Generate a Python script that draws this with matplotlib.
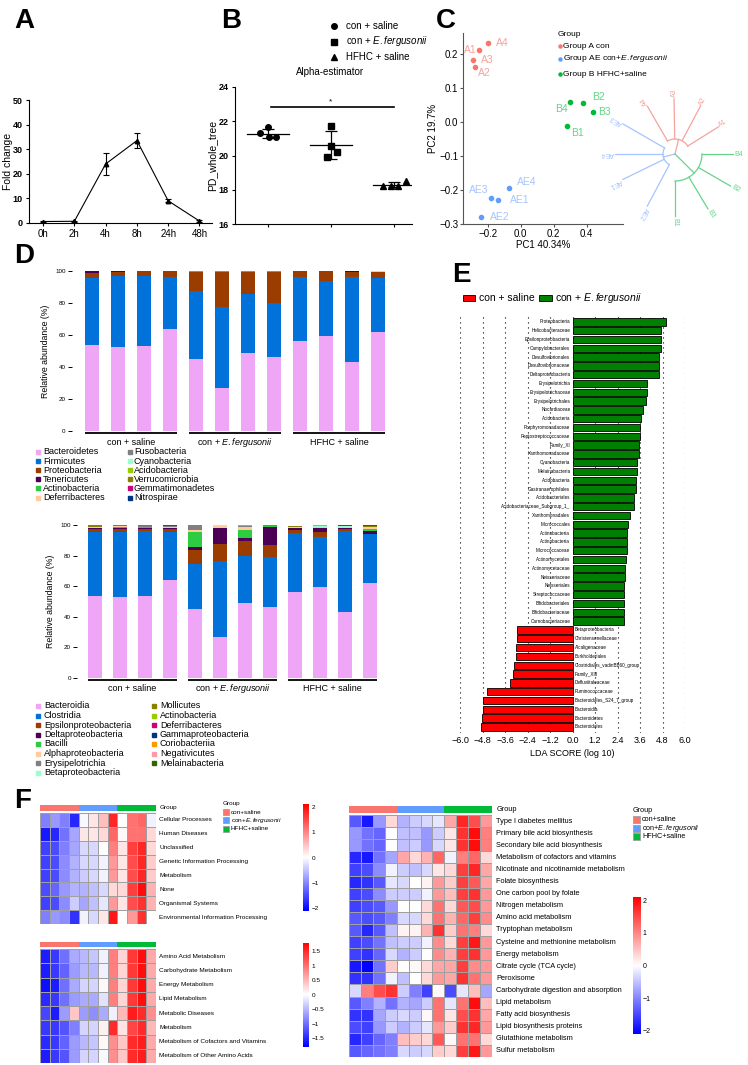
import numpy as np
import matplotlib
matplotlib.use('Agg')
import matplotlib.pyplot as plt
from matplotlib.colors import LinearSegmentedColormap, ListedColormap
from matplotlib.patches import Rectangle

plt.rcParams['font.family'] = ['Liberation Sans', 'DejaVu Sans']
plt.rcParams['mathtext.fontset'] = 'custom'
plt.rcParams['mathtext.rm'] = 'Liberation Sans'
plt.rcParams['mathtext.it'] = 'Liberation Sans:italic'
plt.rcParams['axes.linewidth'] = 0.8
plt.rcParams['axes.facecolor'] = 'none'

# ---------------- DATA ----------------
# Panel A
timepoints = ['0h', '2h', '4h', '8h', '24h', '48h']
fold_change = [0.6, 0.7, 24.0, 33.5, 9.0, 0.8]
fold_err = [0.3, 0.3, 4.6, 3.0, 0.6, 0.3]

# Panel B
alpha_groups = ['con + saline', r'con + $\mathit{E.fergusonii}$', 'HFHC + saline']
alpha_markers = ['o', 's', '^']
pd_saline = [21.30, 21.65, 21.07, 21.07]
pd_efer = [21.73, 20.56, 20.23, 19.90]
pd_hfhc = [18.24, 18.24, 18.24, 18.50]
pd_jitter = [[-0.12, 0.0, 0.02, 0.13], [0.01, 0.01, 0.10, -0.06], [-0.17, -0.05, 0.07, 0.19]]

# Panel C
pcoa_labels = ['A1', 'A2', 'A3', 'A4', 'AE1', 'AE2', 'AE3', 'AE4', 'B1', 'B2', 'B3', 'B4']
pcoa_group = ['A'] * 4 + ['AE'] * 4 + ['B'] * 4
pc1 = [-0.25, -0.28, -0.29, -0.20, -0.14, -0.24, -0.18, -0.07, 0.28, 0.38, 0.44, 0.30]
pc2 = [0.214, 0.162, 0.182, 0.234, -0.230, -0.280, -0.222, -0.194, -0.012, 0.058, 0.030, 0.060]
pcoa_label_offset = [(-3, 0, 'right'), (3, 6, 'left'), (8, 0, 'left'), (8, 0, 'left'),
                     (12, 0, 'left'), (9, 0, 'left'), (-3, -8, 'right'), (8, -6, 'left'),
                     (4, 7, 'left'), (9, -6, 'left'), (5, 0, 'left'), (-2, 7, 'right')]
group_legend_C = ['Group A con', r'Group AE con+$\mathit{E.fergusonii}$', 'Group B HFHC+saline']
tree_leaves = ['A1', 'A2', 'A3', 'A4', 'AE3', 'AE4', 'AE1', 'AE2', 'B1', 'B3', 'B2', 'B4']
tree_clade = ['A'] * 4 + ['AE'] * 4 + ['B'] * 4
tree_angle = [32, 62, 91, 120, 150, 180, 206, 242, 270, 301, 330, 360]
tree_radius = [51, 54, 55, 55, 60, 60, 58, 59, 62, 64, 64, 58]
clade_node_radius = {'A': 15, 'AE': 12, 'B': 27}

# Panel D (phylum level)
phyla = ['Bacteroidetes', 'Firmicutes', 'Proteobacteria', 'Tenericutes', 'Actinobacteria',
         'Deferribacteres', 'Fusobacteria', 'Cyanobacteria', 'Acidobacteria', 'Verrucomicrobia',
         'Gemmatimonadetes', 'Nitrospirae']
phylum_colors = ['#F0A6F7', '#0072DA', '#9B3D00', '#4B0055', '#2ECC40', '#FFCC99',
                 '#808080', '#99FFCC', '#99CC00', '#8B8000', '#CC0077', '#003380']
bacteroidetes = [53.5, 52.7, 53.1, 64.0, 44.8, 26.9, 48.8, 46.3, 56.0, 59.6, 43.0, 62.0]
firmicutes = [42.3, 44.0, 43.6, 32.0, 42.9, 50.4, 37.0, 33.5, 40.0, 33.9, 53.5, 33.6]
proteobacteria = [3.0, 2.5, 3.1, 3.8, 11.8, 22.2, 13.7, 19.7, 3.8, 6.3, 2.8, 3.6]
tenericutes = [1.0, 0.6, 0.1, 0.1, 0.0, 0.0, 0.0, 0.0, 0.1, 0.1, 0.5, 0.1]
actinobacteria_p = [0.05, 0.05, 0.05, 0.05, 0.3, 0.3, 0.3, 0.3, 0.05, 0.05, 0.1, 0.3]
deferribacteres_p = [0.1, 0.1, 0.05, 0.05, 0.1, 0.1, 0.1, 0.1, 0.05, 0.05, 0.1, 0.1]
fusobacteria = [0.0] * 12
cyanobacteria = [0.05, 0.05, 0.05, 0.0, 0.1, 0.1, 0.0, 0.1, 0.0, 0.0, 0.0, 0.2]
acidobacteria = [0.0] * 12
verrucomicrobia = [0.0] * 12
gemmatimonadetes = [0.0] * 12
nitrospirae = [0.0] * 12
phylum_values = [bacteroidetes, firmicutes, proteobacteria, tenericutes, actinobacteria_p,
                 deferribacteres_p, fusobacteria, cyanobacteria, acidobacteria, verrucomicrobia,
                 gemmatimonadetes, nitrospirae]

# Panel D (class level)
classes = ['Bacteroidia', 'Clostridia', 'Epsilonproteobacteria', 'Deltaproteobacteria', 'Bacilli',
           'Alphaproteobacteria', 'Erysipelotrichia', 'Betaproteobacteria', 'Mollicutes',
           'Actinobacteria', 'Deferribacteres', 'Gammaproteobacteria', 'Coriobacteriia',
           'Negativicutes', 'Melainabacteria']
class_colors = ['#F0A6F7', '#0072DA', '#9B3D00', '#4B0055', '#2ECC40', '#FFCC99', '#808080',
                '#99FFCC', '#8B8000', '#99CC00', '#CC0077', '#003380', '#FF9900', '#FF99AA', '#336600']
bacteroidia = [53.7, 53.0, 53.5, 64.0, 44.8, 26.7, 48.9, 46.5, 56.0, 59.6, 43.0, 62.2]
clostridia = [41.9, 42.6, 42.5, 31.6, 29.8, 49.8, 30.9, 32.6, 38.8, 32.6, 52.9, 31.7]
epsilon = [1.8, 1.8, 1.6, 1.8, 9.3, 11.3, 9.8, 7.9, 1.7, 3.4, 1.3, 0.4]
delta = [0.6, 0.6, 0.6, 0.6, 1.7, 10.2, 1.9, 11.7, 1.3, 2.2, 0.8, 1.8]
bacilli = [0.3, 1.0, 0.3, 0.3, 10.0, 0.3, 5.5, 0.5, 0.5, 0.3, 0.3, 1.3]
alpha_p = [0.3, 0.3, 0.5, 0.5, 1.1, 0.8, 1.7, 0.2, 0.4, 0.3, 0.5, 1.0]
erysipelotrichia = [0.2, 0.2, 0.3, 0.3, 3.3, 0.5, 0.8, 0.3, 0.2, 0.5, 0.2, 0.3]
beta_p = [0.1, 0.1, 0.1, 0.1, 0.1, 0.1, 0.1, 0.1, 0.1, 0.5, 0.1, 0.1]
mollicutes = [0.8, 0.5, 0.3, 0.4, 0.0, 0.0, 0.0, 0.0, 0.3, 0.1, 0.4, 0.5]
actinobacteria_c = [0.05, 0.05, 0.05, 0.05, 0.1, 0.1, 0.2, 0.1, 0.05, 0.05, 0.1, 0.3]
deferribacteres_c = [0.1, 0.1, 0.05, 0.05, 0.1, 0.1, 0.1, 0.1, 0.05, 0.05, 0.1, 0.1]
gamma_p = [0.05] * 12
coriobacteriia = [0.05] * 12
negativicutes = [0.0] * 12
melainabacteria = [0.0, 0.0, 0.0, 0.0, 0.1, 0.1, 0.0, 0.1, 0.0, 0.0, 0.0, 0.1]
class_values = [bacteroidia, clostridia, epsilon, delta, bacilli, alpha_p, erysipelotrichia, beta_p,
                mollicutes, actinobacteria_c, deferribacteres_c, gamma_p, coriobacteriia,
                negativicutes, melainabacteria]
d_groups = ['con + saline', r'con + $\mathit{E.fergusonii}$', 'HFHC + saline']

# Panel E (LEfSe)
lefse_green = ['Proteobacteria', 'Helicobacteraceae', 'Epsilonproteobacteria', 'Campylobacterales',
               'Desulfovibrionales', 'Desulfovibrionaceae', 'Deltaproteobacteria', 'Erysipelotrichia',
               'Erysipelotrichaceae', 'Erysipelotrichales', 'Nocardiaceae', 'Acidobacteria',
               'Porphyromonadaceae', 'Peptostreptococcaceae', 'Family_XI', 'Xanthomonadaceae',
               'Cyanobacteria', 'Melainabacteria', 'Acidobacteria', 'Gastranaerophilales',
               'Acidobacteriales', 'Acidobacteriaceae_Subgroup_1_', 'Xanthomonadales', 'Micrococcales',
               'Actinobacteria', 'Actinobacteria', 'Micrococcaceae', 'Actinomycetales',
               'Actinomycetaceae', 'Neisseriaceae', 'Neisseriales', 'Streptococcaceae',
               'Bifidobacteriales', 'Bifidobacteriaceae', 'Carnobacteriaceae']
lda_green = [4.97, 4.70, 4.70, 4.70, 4.60, 4.60, 4.60, 3.96, 3.96, 3.94, 3.76, 3.67, 3.58, 3.58,
             3.53, 3.53, 3.44, 3.42, 3.37, 3.37, 3.30, 3.26, 3.05, 2.96, 2.92, 2.92, 2.89, 2.84,
             2.82, 2.80, 2.77, 2.77, 2.73, 2.73, 2.73]
lefse_red = ['Betaproteobacteria', 'Christensenellaceae', 'Alcaligenaceae', 'Burkholderiales',
             'Clostridiales_vadinBB60_group', 'Family_XIII', 'Defluviitaleaceae', 'Ruminococcaceae',
             'Bacteroidales_S24_7_group', 'Bacteroidia', 'Bacteroidetes', 'Bacteroidales']
lda_red = [-2.96, -2.98, -3.00, -3.03, -3.12, -3.16, -3.32, -4.54, -4.76, -4.79, -4.83, -4.86]
lda_ticks = [-6.0, -4.8, -3.6, -2.4, -1.2, 0.0, 1.2, 2.4, 3.6, 4.8, 6.0]

# Panel F
group_colors = ['#F8766D', '#619CFF', '#00BA38']
sample_group = [0, 0, 0, 0, 1, 1, 1, 1, 2, 2, 2, 2]
group_names = ['con+saline', r'con+$\mathit{E.fergusonii}$', 'HFHC+saline']
f1_rows = ['Cellular Processes', 'Human Diseases', 'Unclassified', 'Genetic Information Processing',
           'Metabolism', 'None', 'Organismal Systems', 'Environmental Information Processing']
f1_values = [
    [-1.0, -0.8, -1.0, -1.7, -0.05, 0.2, 0.5, 1.7, 0.0, 1.1, 1.2, -0.1],
    [-1.8, -1.7, -1.1, -0.7, 0.2, 0.2, 0.3, 1.2, 0.05, 1.1, 1.1, 0.3],
    [-1.5, -1.4, -1.0, -0.7, -0.3, -0.3, 0.0, 1.0, 0.2, 1.5, 1.7, 0.3],
    [-1.5, -1.4, -0.9, -0.6, -0.3, -0.3, -0.1, 0.8, 0.2, 1.4, 1.7, 0.4],
    [-1.5, -1.4, -0.9, -0.6, -0.4, -0.3, -0.1, 0.8, 0.2, 1.4, 1.7, 0.4],
    [-1.4, -1.2, -0.8, -0.6, -0.6, -0.5, -0.3, 0.3, 0.3, 1.5, 1.9, 0.6],
    [-1.5, -1.4, -0.9, -0.4, -0.7, -0.5, -0.2, 0.8, 0.2, 1.4, 1.6, 0.6],
    [-1.0, -0.8, -0.9, -1.6, -0.1, -0.3, 0.2, 1.8, 0.0, 0.8, 1.6, 0.0]]
f2_rows = ['Amino Acid Metabolism', 'Carbohydrate Metabolism', 'Energy Metabolism', 'Lipid Metabolism',
           'Metabolic Diseases', 'Metabolism', 'Metabolism of Cofactors and Vitamins',
           'Metabolism of Other Amino Acids']
f2_values = [
    [-1.6, -1.4, -1.0, -0.6, -0.5, -0.4, -0.1, 0.9, 0.3, 1.4, 1.7, 0.6],
    [-1.6, -1.4, -1.1, -0.7, -0.5, -0.5, -0.1, 0.9, 0.3, 1.4, 1.7, 0.6],
    [-1.7, -1.6, -1.0, -0.6, -0.3, -0.3, 0.05, 0.9, 0.3, 1.4, 1.7, 0.6],
    [-1.5, -1.4, -1.0, -0.7, -0.6, -0.6, -0.2, 0.9, 0.3, 1.4, 1.7, 0.6],
    [-1.3, -1.6, -0.7, 0.4, -0.7, -0.8, -0.6, -0.1, 0.5, 1.6, 1.5, 0.8],
    [-1.4, -1.4, -1.2, -0.9, -0.3, -0.3, 0.1, 1.5, 0.2, 1.3, 1.5, 0.5],
    [-1.5, -1.4, -1.1, -0.7, -0.5, -0.4, 0.05, 0.8, 0.4, 1.5, 1.6, 0.6],
    [-1.6, -1.4, -1.2, -0.7, -0.3, -0.3, -0.05, 0.8, 0.4, 1.5, 1.6, 0.6]]
f3_rows = ['Type I diabetes mellitus', 'Primary bile acid biosynthesis', 'Secondary bile acid biosynthesis',
           'Metabolism of cofactors and vitamins', 'Nicotinate and nicotinamide metabolism',
           'Folate biosynthesis', 'One carbon pool by folate', 'Nitrogen metabolism',
           'Amino acid metabolism', 'Tryptophan metabolism', 'Cysteine and methionine metabolism',
           'Energy metabolism', 'Citrate cycle (TCA cycle)', 'Peroxisome',
           'Carbohydrate digestion and absorption', 'Lipid metabolism', 'Fatty acid biosynthesis',
           'Lipid biosynthesis proteins', 'Glutathione metabolism', 'Sulfur metabolism']
f3_values = [
    [-1.3, -1.8, -0.8, 0.3, -0.6, -0.4, -0.3, -0.2, 0.7, 1.7, 1.4, 0.8],
    [-0.8, -1.1, -1.2, 0.0, -0.5, -0.5, -0.8, -0.4, 0.2, 1.6, 1.9, 1.0],
    [-0.8, -1.1, -1.2, 0.0, -0.5, -0.4, -0.8, -0.3, 0.2, 1.6, 1.9, 1.0],
    [-1.7, -1.8, -1.1, -0.7, 0.7, 0.3, 0.6, 1.2, -0.1, 1.0, 1.2, 0.3],
    [-1.5, -1.4, -0.9, -0.1, -0.4, -0.5, -0.3, 0.2, 0.3, 1.5, 1.7, 0.7],
    [-1.7, -1.6, -1.3, -0.2, -0.3, 0.0, 0.1, 0.8, 0.4, 1.5, 1.3, 0.7],
    [-1.5, -1.4, -0.9, -0.4, -0.4, -0.4, -0.1, 0.8, 0.5, 1.5, 1.6, 0.8],
    [-1.5, -1.4, -1.3, -0.8, 0.0, 0.0, 0.3, 1.1, 0.3, 1.3, 1.4, 0.8],
    [-1.3, -1.4, -1.3, -1.0, -0.3, -0.3, 0.3, 1.1, 0.6, 1.2, 1.5, 0.9],
    [-1.3, -1.7, -1.3, -0.5, 0.1, 0.1, 0.6, 1.6, 0.4, 1.1, 1.0, 0.3],
    [-1.5, -1.4, -1.1, -0.5, -0.4, -0.4, -0.1, 0.9, 0.3, 1.5, 1.8, 0.8],
    [-1.5, -1.6, -1.2, -0.3, -0.6, -0.4, 0.0, 0.9, 0.6, 1.5, 1.6, 0.8],
    [-1.8, -2.0, -1.1, 0.4, 0.0, 0.05, 0.3, 0.7, 0.7, 1.5, 0.9, 0.8],
    [-1.6, -1.6, -1.1, -0.1, -0.5, 0.0, 0.3, 0.8, 0.7, 1.6, 1.1, 0.8],
    [-0.3, 1.0, 1.4, 1.6, -0.4, -1.0, -1.5, 0.05, -1.4, -0.2, 0.5, -0.7],
    [-1.3, -1.0, -0.6, -1.1, -0.6, -0.7, -0.4, 1.1, -0.2, 1.1, 1.9, 0.5],
    [-1.6, -1.6, -0.7, -0.4, -0.3, -0.4, 0.05, 1.1, 0.2, 1.4, 1.6, 0.7],
    [-1.4, -1.5, -0.8, -0.4, -0.6, -0.4, -0.2, 0.8, 0.4, 1.6, 1.7, 0.8],
    [-1.7, -1.5, -1.2, -1.0, 0.5, 0.4, 0.3, 1.3, 0.05, 1.1, 1.1, 0.3],
    [-1.3, -1.2, -1.1, -1.0, -0.3, -0.4, -0.3, 0.4, 0.3, 1.5, 1.8, 0.8]]

# ---------------- FIGURE ----------------
W, H = 748, 1065
fig = plt.figure(figsize=(W / 100, H / 100), dpi=100)
fig.patch.set_facecolor('white')


def rect(x0, y0, x1, y1):
    return [x0 / W, 1 - y1 / H, (x1 - x0) / W, (y1 - y0) / H]


ov = fig.add_axes([0, 0, 1, 1])
ov.set_xlim(0, W)
ov.set_ylim(H, 0)
ov.axis('off')

for lab, (lx, ly) in zip('ABCDEF', [(14, 8), (221, 8), (436, 8), (14, 243), (452, 262), (14, 788)]):
    ov.text(lx, ly, lab, fontsize=20, fontweight='bold', va='top', ha='left')

# ---- Panel A ----
axA = fig.add_axes(rect(29, 100, 212, 223))
xa = np.arange(len(timepoints))
axA.errorbar(xa, fold_change, yerr=fold_err, color='black', marker='^', ms=3.2, lw=0.8,
             capsize=2, elinewidth=0.8, capthick=0.8)
axA.set_xlim(-0.45, 5.4)
axA.set_ylim(0, 50)
axA.set_xticks(xa)
axA.set_xticklabels(timepoints, fontsize=7)
axA.set_yticks([0, 10, 20, 30, 40, 50])
axA.set_yticklabels(['0', '10', '20', '30', '40', '50'], fontsize=6.5, fontweight='bold')
axA.spines['top'].set_visible(False)
axA.spines['right'].set_visible(False)
axA.tick_params(length=2.5, width=0.8, pad=2)
axA.set_ylabel('Fold change', fontsize=7.5)
axA.yaxis.set_label_coords(-0.085, 0.5)

# ---- Panel B ----
axB = fig.add_axes(rect(235, 87, 412, 224))
for gi, (vals, mk) in enumerate(zip([pd_saline, pd_efer, pd_hfhc], alpha_markers)):
    xs = [gi + j for j in pd_jitter[gi]]
    axB.plot(xs, vals, linestyle='none', marker=mk, color='black', ms=4)
    m = np.mean(vals)
    s = np.std(vals, ddof=1)
    axB.plot([gi - 0.33, gi + 0.33], [m, m], color='black', lw=0.9)
    axB.errorbar([gi], [m], yerr=[s], color='black', capsize=4, elinewidth=0.9, capthick=0.9, lw=0)
axB.plot([0.05, 2.0], [22.85, 22.85], color='black', lw=1.2)
axB.text(1.0, 22.9, '*', fontsize=6, ha='center', va='bottom')
axB.set_xlim(-0.52, 2.29)
axB.set_ylim(16, 24)
axB.set_xticks([0, 1, 2])
axB.set_xticklabels([])
axB.set_yticks([16, 18, 20, 22, 24])
axB.set_yticklabels(['16', '18', '20', '22', '24'], fontsize=6.5, fontweight='bold')
axB.spines['top'].set_visible(False)
axB.spines['right'].set_visible(False)
axB.tick_params(length=2.5, width=0.8, pad=2)
axB.set_ylabel('PD_whole_tree', fontsize=7.5)
axB.yaxis.set_label_coords(-0.1, 0.5)
ov.text(330, 72, 'Alpha-estimator', fontsize=7, ha='center', va='center')
for i, (g, mk) in enumerate(zip(alpha_groups, alpha_markers)):
    ov.plot([334], [26 + 15.5 * i], marker=mk, color='black', ms=4, linestyle='none')
    ov.text(346, 26 + 15.5 * i, g, fontsize=7, va='center', ha='left')

# ---- Panel C ----
cmap_grp = {'A': '#F8766D', 'AE': '#619CFF', 'B': '#00BA38'}
lab_grp = {'A': '#F6A39D', 'AE': '#A6C4FF', 'B': '#66D488'}
axC = fig.add_axes(rect(463, 33, 623, 224))
for lab, g, x, y, (dx, dy, ha) in zip(pcoa_labels, pcoa_group, pc1, pc2, pcoa_label_offset):
    axC.plot([x], [y], 'o', color=cmap_grp[g], ms=3)
    axC.annotate(lab, (x, y), xytext=(dx * 0.72, -dy * 0.72), textcoords='offset points',
                 ha=ha, va='center', fontsize=7.5, color=lab_grp[g])
axC.set_xlim(-0.35, 0.62)
axC.set_ylim(-0.3, 0.263)
axC.set_xticks([-0.2, 0.0, 0.2, 0.4])
axC.set_xticklabels(['\u22120.2', '0.0', '0.2', '0.4'], fontsize=7)
axC.set_yticks([-0.3, -0.2, -0.1, 0.0, 0.1, 0.2])
axC.set_yticklabels(['\u22120.3', '\u22120.2', '\u22120.1', '0.0', '0.1', '0.2'], fontsize=7)
axC.spines['top'].set_visible(False)
axC.spines['right'].set_visible(False)
axC.spines['left'].set_color('#555555')
axC.spines['bottom'].set_color('#555555')
axC.tick_params(length=2, width=0.8, pad=1.5, color='#555555')
axC.set_xlabel('PC1 40.34%', fontsize=7, labelpad=1)
axC.set_ylabel('PC2 19.7%', fontsize=7, labelpad=1)
ov.text(558, 34, 'Group', fontsize=6, va='center')
for i, (g, txt) in enumerate(zip(['A', 'AE', 'B'], group_legend_C)):
    yy = [46, 59, 74][i]
    ov.plot([560], [yy], 'o', color=cmap_grp[g], ms=2.2)
    ov.text(563, yy, txt, fontsize=6, va='center')

# tree
axT = fig.add_axes(rect(600, 80, 748, 232))
axT.set_xlim(600, 748)
axT.set_ylim(232, 80)
axT.axis('off')
cx, cy = 675, 154


def pol(r, a):
    return cx + r * np.cos(np.radians(a)), cy - r * np.sin(np.radians(a))


for clade in ['A', 'AE', 'B']:
    angs = [a for a, c in zip(tree_angle, tree_clade) if c == clade]
    rads = [r for r, c in zip(tree_radius, tree_clade) if c == clade]
    names = [n for n, c in zip(tree_leaves, tree_clade) if c == clade]
    rn = clade_node_radius[clade]
    col = lab_grp[clade]
    mid = np.mean(angs)
    p0 = pol(0, mid)
    p1 = pol(rn, mid)
    axT.plot([p0[0], p1[0]], [p0[1], p1[1]], color=col, lw=0.9)
    tt = np.linspace(min(angs), max(angs), 60)
    axT.plot(cx + rn * np.cos(np.radians(tt)), cy - rn * np.sin(np.radians(tt)), color=col, lw=0.9)
    for a, r, n in zip(angs, rads, names):
        q0 = pol(rn, a)
        q1 = pol(r, a)
        axT.plot([q0[0], q1[0]], [q0[1], q1[1]], color=col, lw=0.9)
        q2 = pol(r + 1.5, a)
        axT.text(q2[0], q2[1], n, fontsize=5, color=col, rotation=a % 360,
                 rotation_mode='anchor', ha='left', va='center')

# ---- Panel D ----
def stacked(rc, values, colors, yline, ylab_pad, width):
    ax = fig.add_axes(rect(*rc[:4]))
    x = np.arange(12)
    bottom = np.zeros(12)
    for vals, col in zip(values, colors):
        ax.bar(x, vals, bottom=bottom, width=width, color=col, linewidth=0)
        bottom += np.array(vals)
    ax.set_xlim(rc[4], rc[5])
    ax.set_ylim(0, 100)
    ax.set_yticks([0, 20, 40, 60, 80, 100])
    ax.set_yticklabels(['0', '20', '40', '60', '80', '100'], fontsize=4.5)
    ax.set_xticks([])
    for s in ['top', 'right', 'left', 'bottom']:
        ax.spines[s].set_visible(False)
    ax.tick_params(axis='y', length=3, width=0.7, pad=1.5)
    ax.set_ylabel('Relative abundance (%)', fontsize=6.3, labelpad=ylab_pad)
    for gi, g in enumerate(d_groups):
        ax.plot([gi * 4 - width / 2, gi * 4 + 3 + width / 2], [yline, yline], color='black', lw=1.3,
                clip_on=False, solid_capstyle='butt')
        ax.text(gi * 4 + 1.5, yline - 5.6, g, fontsize=6.5, ha='center', va='center')
    return ax


stacked((72, 271, 390, 431, -0.77, 11.46), phylum_values, phylum_colors, -1.3, 4, 0.54)
stacked((77, 525, 385, 678, -0.72, 11.6), class_values, class_colors, -1.3, 4, 0.56)

for i, (nm, col) in enumerate(zip(phyla, phylum_colors)):
    c, r = divmod(i, 6)
    yy = 452 + 9.1 * r
    ov.plot([38 + 92 * c], [yy], 's', color=col, ms=2.6)
    ov.text(43 + 91 * c, yy, nm, fontsize=6.5, va='center')
for i, (nm, col) in enumerate(zip(classes, class_colors)):
    c, r = divmod(i, 8)
    yy = 706 + 9.5 * r
    ov.plot([38 + 116 * c], [yy], 's', color=col, ms=2.6)
    ov.text(44 + 116 * c, yy, nm, fontsize=6.5, va='center')

# ---- Panel E ----
axE = fig.add_axes(rect(460, 313, 685, 733))
names_E = lefse_green + lefse_red
vals_E = lda_green + lda_red
cols_E = ['#008000'] * len(lefse_green) + ['#FF0000'] * len(lefse_red)
yE = np.arange(len(names_E))
for t in lda_ticks:
    axE.axvline(t, color='black', lw=0.8, ls=(0, (1, 3.5)), zorder=0)
axE.barh(yE, vals_E, height=0.84, color=cols_E, edgecolor='black', linewidth=0.6, zorder=2)
for y, n, v in zip(yE, names_E, vals_E):
    if v > 0:
        axE.text(-0.12, y, n, fontsize=3.3, ha='right', va='center', zorder=3)
    else:
        axE.text(0.12, y, n, fontsize=3.3, ha='left', va='center', zorder=3)
axE.set_xlim(-6, 6)
axE.set_ylim(len(names_E) - 0.3, -1.0)
axE.set_yticks([])
axE.set_xticks(lda_ticks)
axE.set_xticklabels([('%.1f' % t).replace('-', '\u2212') for t in lda_ticks], fontsize=6.5)
axE.tick_params(axis='x', length=0, pad=2)
for s in ['top', 'right', 'left', 'bottom']:
    axE.spines[s].set_visible(False)
axE.set_xlabel('LDA SCORE (log 10)', fontsize=6.5, labelpad=3)
ov.add_patch(Rectangle((463, 295), 12, 6, facecolor='#FF0000', edgecolor='black', lw=0.6))
ov.text(479, 298, 'con + saline', fontsize=7.5, va='center')
ov.add_patch(Rectangle((539, 295), 13, 6, facecolor='#008000', edgecolor='black', lw=0.6))
ov.text(555, 298, r'con + $\mathit{E.fergusonii}$', fontsize=7.5, va='center')

# ---- Panel F ----
hm_cmap = LinearSegmentedColormap.from_list('bwr2', ['#0000FF', '#FFFFFF', '#FF0000'])
grp_cmap = ListedColormap(group_colors)


def heatmap(x0, x1, y_ann0, y_ann1, y0, y1, rows, values, vmin, vmax, fs, group_label):
    axa = fig.add_axes(rect(x0, y_ann0, x1, y_ann1))
    axa.pcolormesh(np.array([sample_group]), cmap=grp_cmap, vmin=-0.5, vmax=2.5)
    axa.set_xlim(0, 12)
    axa.axis('off')
    if group_label:
        axa.text(12.35, 0.5, 'Group', fontsize=fs, va='center', ha='left')
    ax = fig.add_axes(rect(x0, y0, x1, y1))
    ax.pcolormesh(np.array(values), cmap=hm_cmap, vmin=vmin, vmax=vmax,
                  edgecolors='#A0A0A0', linewidth=0.7)
    ax.set_xlim(0, 12)
    ax.set_ylim(len(rows), 0)
    ax.axis('off')
    for i, r in enumerate(rows):
        ax.text(12.35, i + 0.5, r, fontsize=fs, va='center', ha='left')


def colorbar(x0, x1, y0, y1, vmin, vmax, ticks, fs):
    ax = fig.add_axes(rect(x0, y0, x1, y1))
    grad = np.linspace(vmin, vmax, 256)[:, None]
    ax.imshow(grad, aspect='auto', cmap=hm_cmap, vmin=-max(abs(vmin), abs(vmax)),
              vmax=max(abs(vmin), abs(vmax)), origin='lower', extent=[0, 1, vmin, vmax])
    ax.set_xticks([])
    ax.yaxis.tick_right()
    ax.set_yticks(ticks)
    ax.set_yticklabels([('%g' % t).replace('-', '\u2212') for t in ticks], fontsize=fs)
    ax.tick_params(axis='y', length=0, pad=2)
    for s in ['top', 'right', 'left', 'bottom']:
        ax.spines[s].set_visible(False)


def group_legend(x, y, dy, fs, box):
    ov.text(x, y, 'Group', fontsize=fs, va='center', ha='left')
    for i, (n, c) in enumerate(zip(group_names, group_colors)):
        yy = y + dy * (i + 1)
        ov.add_patch(Rectangle((x, yy - box / 2), box, box, facecolor=c, edgecolor='#A0A0A0', lw=0.6))
        ov.text(x + box + 2, yy, n, fontsize=fs, va='center', ha='left')


heatmap(40, 156, 805, 811, 813, 924, f1_rows, f1_values, -2, 2, 4.6, True)
heatmap(40, 156, 942, 947, 949, 1063, f2_rows, f2_values, -1.8, 1.8, 4.6, False)
heatmap(349, 492, 806, 813, 815, 1057, f3_rows, f3_values, -2, 2, 5.3, True)
colorbar(303, 309, 804, 911, -2.1, 2.1, [-2, -1, 0, 1, 2], 4.6)
colorbar(303, 309, 943, 1047, -1.81, 1.78, [-1.5, -1, -0.5, 0, 0.5, 1, 1.5], 4.6)
colorbar(633, 640, 897, 1034, -2.1, 2.1, [-2, -1, 0, 1, 2], 5)
group_legend(223, 804, 8.2, 4.6, 6)
group_legend(633, 811, 8.5, 5.2, 7)

fig.savefig('out.png', dpi=100, facecolor='white')
